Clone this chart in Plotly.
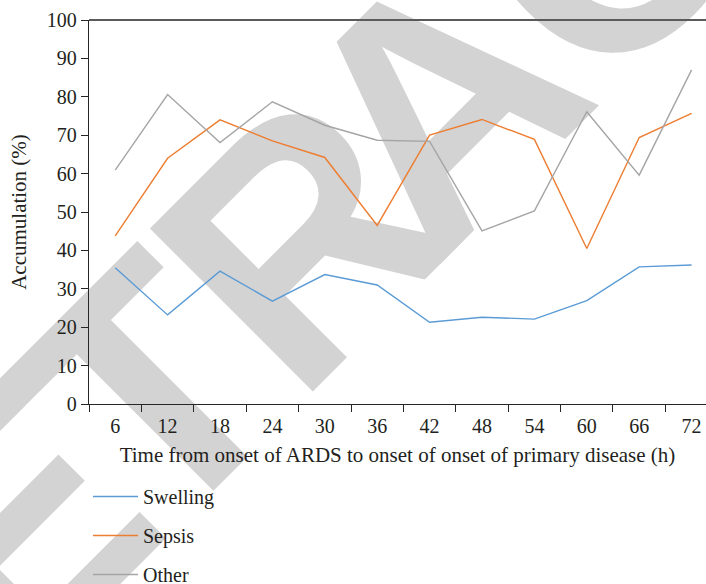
import math
import plotly.graph_objects as go

# Hours from onset of ARDS (category labels on the x axis)
hours = ["6", "12", "18", "24", "30", "36", "42", "48", "54", "60", "66", "72"]

# Accumulation (%) per group
swelling = [35.5, 23.2, 34.6, 26.8, 33.7, 31.0, 21.3, 22.6, 22.1, 26.9, 35.7, 36.2]
sepsis = [43.8, 64.0, 74.0, 68.5, 64.2, 46.5, 70.0, 74.1, 68.9, 40.5, 69.4, 75.7]
other = [60.9, 80.6, 68.1, 78.7, 72.6, 68.7, 68.4, 45.1, 50.3, 76.1, 59.6, 87.0]

y_ticks = [0, 10, 20, 30, 40, 50, 60, 70, 80, 90, 100]

W, H = 706, 584
L, R, T, B = 89, 0, 20, 180
SERIF = "Liberation Serif, Times New Roman, serif"
FS = 20
TXT = "#231f20"
AX = "#262626"

fig = go.Figure()
series = [("Swelling", swelling, "#5b9bd5"),
          ("Sepsis", sepsis, "#ed7d31"),
          ("Other", other, "#a5a5a5")]
for name, vals, col in series:
    fig.add_trace(go.Scatter(
        x=hours, y=vals, name=name, mode="lines", legendgroup=name,
        line=dict(color=col, width=1.4),
    ))

# Diagonal "RETRACTED" stamp drawn underneath the data: one rotated glyph
# per letter, placed along a 45-degree baseline (s = along, t = across)
stamp = "RETRACTED"
stamp_s = [-562, -362, -172, 43, 237, 472, 690, 890, 1095]
stamp_t = 350
pw, ph = W - L - R, H - T - B
shapes = []
for ch, s in zip(stamp, stamp_s):
    px = (s + stamp_t) / math.sqrt(2)
    py = (stamp_t - s) / math.sqrt(2)
    xp, yp = (px - L) / pw, (H - B - py) / ph
    shapes.append(dict(
        type="rect", xref="paper", yref="paper",
        x0=xp, x1=xp, y0=yp, y1=yp, layer="below",
        line=dict(width=0), fillcolor="rgba(0,0,0,0)",
        label=dict(text=ch, textangle=-45, textposition="middle center",
                   font=dict(family="Liberation Sans, Arial, sans-serif",
                             size=335, color="#d3d3d3", weight="bold")),
    ))

# Grey frame line along the top of the plot area
shapes.append(dict(type="line", xref="paper", yref="paper",
                   x0=0, x1=1, y0=1, y1=1, layer="above",
                   line=dict(color="#5a5a5a", width=2)))

fig.update_layout(
    width=W, height=H,
    margin=dict(l=L, r=R, t=T, b=B, pad=0, autoexpand=False),
    paper_bgcolor="white", plot_bgcolor="rgba(0,0,0,0)",
    font=dict(family=SERIF, size=FS, color=TXT),
    showlegend=True,
    legend=dict(
        x=-1 / pw, y=-0.19, xanchor="left", yanchor="top",
        orientation="v", tracegroupgap=10, itemwidth=45,
        font=dict(family=SERIF, size=FS, color=TXT),
        bgcolor="rgba(0,0,0,0)",
    ),
    shapes=shapes,
)

fig.update_xaxes(
    type="category", range=[-0.5, 11.275],
    tickson="boundaries", ticks="outside", ticklen=7, tickwidth=1.2, tickcolor=AX,
    ticklabelstandoff=4,
    showline=True, linecolor=AX, linewidth=1.3, mirror=False,
    showgrid=False, zeroline=False,
    tickfont=dict(family=SERIF, size=FS, color=TXT),
    title=dict(text="Time from onset of ARDS to onset of onset of primary disease (h)",
               font=dict(family=SERIF, size=21, color=TXT), standoff=11),
)
fig.update_yaxes(
    range=[0, 100], tickmode="array", tickvals=y_ticks,
    ticks="outside", ticklen=7, tickwidth=1.2, tickcolor=AX,
    showline=True, linecolor=AX, linewidth=1.3, mirror=False,
    showgrid=False, zeroline=False,
    tickfont=dict(family=SERIF, size=FS, color=TXT),
    title=dict(text="Accumulation (%)",
               font=dict(family=SERIF, size=21, color=TXT), standoff=14),
)

fig.write_html("out.html")
